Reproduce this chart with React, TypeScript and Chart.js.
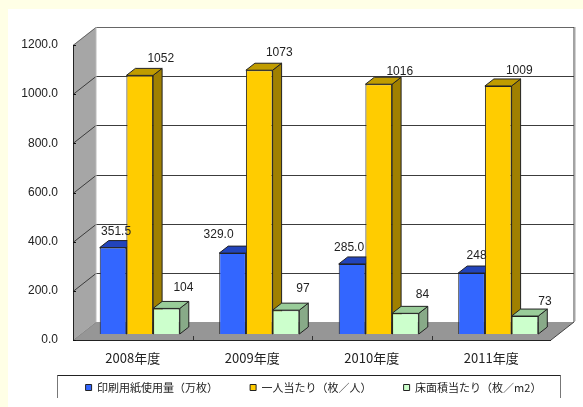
import React, { useEffect, useRef } from "react";
import { Chart, registerables } from "chart.js";

Chart.register(...registerables);

const categories = ["2008年度", "2009年度", "2010年度", "2011年度"];
const seriesNames = ["印刷用紙使用量\uFF08万枚\uFF09", "一人当たり\uFF08枚\uFF0F人\uFF09", "床面積当たり\uFF08枚\uFF0Fm2\uFF09"];
const paperUse = [351.5, 329.0, 285.0, 248];
const perPerson = [1052, 1073, 1016, 1009];
const perArea = [104, 97, 84, 73];
const paperLabels = ["351.5", "329.0", "285.0", "248"];
const personLabels = ["1052", "1073", "1016", "1009"];
const areaLabels = ["104", "97", "84", "73"];
const yTicks = [0, 200, 400, 600, 800, 1000, 1200];

// label nudges relative to top-centre of each bar
const labelNudges = [
  [[3, -16], [-14, -18], [-3, -16], [5, -17]],
  [[21, -17], [20, -18], [21, -13], [21, -15]],
  [[17, -21], [17, -21], [17, -19], [20, -14]],
];
const labelTexts = [paperLabels, personLabels, areaLabels];

const FRONT = { left: 73, right: 551, top: 45, bottom: 340 };
const WALL = { dx: 23, dy: -18 };
const SHIFT = { x: 7, y: -6 };
const DEPTH = { x: 9, y: -7 };
const LEGEND_SHIFT = 38;

const barStyles = [
  { face: "#3366FF", side: "#2244A8", top: "#2244BB" },
  { face: "#FFCC00", side: "#A08000", top: "#C09C00" },
  { face: "#CCFFCC", side: "#88AA88", top: "#99CC99" },
];

const poly = (ctx: CanvasRenderingContext2D, pts: number[][], fill: string | null, stroke: string | null, lw = 1) => {
  ctx.beginPath();
  pts.forEach((p, i) => (i ? ctx.lineTo(p[0], p[1]) : ctx.moveTo(p[0], p[1])));
  if (fill) {
    ctx.closePath();
    ctx.fillStyle = fill;
    ctx.fill();
  }
  if (stroke) {
    ctx.strokeStyle = stroke;
    ctx.lineWidth = lw;
    ctx.stroke();
  }
};

const scene3d = {
  id: "scene3d",
  afterLayout(chart: any) {
    chart.legend.left += LEGEND_SHIFT;
    chart.legend.right += LEGEND_SHIFT;
  },
  beforeDraw(chart: any) {
    const { ctx, width, height } = chart;
    ctx.save();
    ctx.fillStyle = "#FFFFE6";
    ctx.fillRect(0, 0, width, height);
    ctx.fillStyle = "#FFFFFF";
    ctx.fillRect(8, 9, width - 8, height - 9);
    ctx.restore();
  },
  beforeDatasetsDraw(chart: any) {
    const { ctx, scales } = chart;
    const a = chart.chartArea;
    const { dx, dy } = WALL;
    ctx.save();
    poly(ctx, [[a.left, a.top], [a.left + dx, a.top + dy], [a.left + dx, a.bottom + dy], [a.left, a.bottom]], "#A6A6A6", null);
    poly(ctx, [[a.left, a.bottom], [a.left + dx, a.bottom + dy], [a.right + dx, a.bottom + dy], [a.right, a.bottom]], "#969696", null);
    yTicks.forEach((v) => {
      const y = Math.round(scales.y.getPixelForValue(v)) + 0.5;
      const back = y + dy;
      if (v > 0) {
        poly(ctx, [[a.left, y], [a.left + dx, back], [a.right + dx, back]], null, v === 1200 ? "#666666" : "#3C3C3C", 1);
      } else {
        poly(ctx, [[a.left, y], [a.left + dx, back]], null, "#8A8A8A", 1);
      }
    });
    poly(ctx, [[a.right + dx, a.top + dy], [a.right + dx, a.bottom + dy], [a.right, a.bottom]], null, "#444444", 1);
    poly(ctx, [[a.right + dx + 1, a.top + dy], [a.right + dx + 1, a.bottom + dy - 1]], null, "#A6A6A6", 1);
    poly(ctx, [[a.left + dx, a.top + dy], [a.left + dx, a.bottom + dy]], null, "#BBBBBB", 1);
    // legend frame
    poly(ctx, [[57.5, 398], [57.5, 375.5], [560.5, 375.5], [560.5, 398]], null, "#777777", 1);
    poly(ctx, [[57.5, 375.5], [560.5, 375.5]], null, "#222222", 1);

    // bars, left series first, so each one hides the previous one's side
    [0, 1, 2].forEach((s) => {
      const style = barStyles[s];
      const meta = chart.getDatasetMeta(s);
      ctx.save();
      ctx.translate(SHIFT.x, SHIFT.y);
      meta.data.forEach((el: any) => {
        const r = el.x + el.width / 2;
        const l = el.x - el.width / 2;
        poly(ctx, [[r, el.y], [r + DEPTH.x, el.y + DEPTH.y], [r + DEPTH.x, el.base + DEPTH.y], [r, el.base]], style.side, "#222222", 1);
        poly(ctx, [[l, el.y], [l + DEPTH.x, el.y + DEPTH.y], [r + DEPTH.x, el.y + DEPTH.y], [r, el.y]], style.top, "#222222", 1);
      });
      meta.controller.draw();
      ctx.restore();
    });

    // front axis lines and category ticks
    poly(ctx, [[a.left + 0.5, a.top], [a.left + 0.5, a.bottom + 0.5], [a.right, a.bottom + 0.5]], null, "#222222", 1);
    yTicks.forEach((v) => {
      const y = Math.round(scales.y.getPixelForValue(v)) + 0.5;
      poly(ctx, [[a.left, y], [a.left + 3, y]], null, "#111111", 1);
    });
    for (let i = 1; i < categories.length; i++) {
      const x = Math.round(a.left + ((a.right - a.left) * i) / categories.length) + 0.5;
      poly(ctx, [[x, a.bottom], [x, a.bottom - 4]], null, "#333333", 1);
    }
    ctx.font = '12px "Liberation Sans"';
    ctx.fillStyle = "#222222";
    ctx.textAlign = "center";
    ctx.textBaseline = "middle";
    [0, 1, 2].forEach((s) => {
      chart.getDatasetMeta(s).data.forEach((el: any, i: number) => {
        const [nx, ny] = labelNudges[s][i];
        ctx.fillText(labelTexts[s][i], el.x + SHIFT.x + nx, el.y + SHIFT.y + ny);
      });
    });
    ctx.restore();
    return false;
  },
};

export default function App() {
  const ref = useRef<HTMLCanvasElement>(null);
  useEffect(() => {
    const chart = new Chart(ref.current!, {
      type: "bar",
      data: {
        labels: categories,
        datasets: [paperUse, perPerson, perArea].map((values, i) => ({
          label: seriesNames[i],
          data: values,
          backgroundColor: barStyles[i].face,
          borderColor: "#222222",
          borderWidth: 1,
          barPercentage: 1,
          categoryPercentage: 0.67,
        })),
      },
      options: {
        responsive: false,
        animation: false,
        layout: { padding: { left: 0, right: 583 - FRONT.right, top: FRONT.top, bottom: 4 } },
        scales: {
          x: {
            afterFit: (s: any) => {
              s.height = 10;
              // the labels sit below this squeezed scale box, so do not clip them to it
              s._computeLabelArea = () => undefined;
            },
            grid: { display: false },
            border: { display: false },
            ticks: { padding: 2, color: "#222222", font: { family: '"Noto Sans CJK JP"', size: 13 }, maxRotation: 0 },
          },
          y: {
            min: 0,
            max: 1200,
            afterFit: (s: any) => { s.width = FRONT.left; },
            afterBuildTicks: (s: any) => { s.ticks = yTicks.map((value) => ({ value })); },
            grid: { display: false },
            border: { display: false },
            ticks: {
              padding: 7,
              color: "#222222",
              font: { family: '"Liberation Sans"', size: 12 },
              callback: (v: any) => Number(v).toFixed(1),
            },
          },
        },
        plugins: {
          tooltip: { enabled: false },
          title: { display: false },
          legend: {
            position: "bottom",
            labels: {
              boxWidth: 6,
              boxHeight: 6,
              padding: 32,
              color: "#222222",
              font: { family: '"Noto Sans CJK JP"', size: 11 },
            },
          },
        },
      },
      plugins: [scene3d],
    } as any);
    return () => chart.destroy();
  }, []);
  return (
    <div style={{ position: "fixed", left: 0, top: 0, width: 583, height: 407, overflow: "hidden" }}>
      <canvas ref={ref} width={583} height={407} style={{ display: "block", filter: "blur(0.4px)" }} />
    </div>
  );
}
